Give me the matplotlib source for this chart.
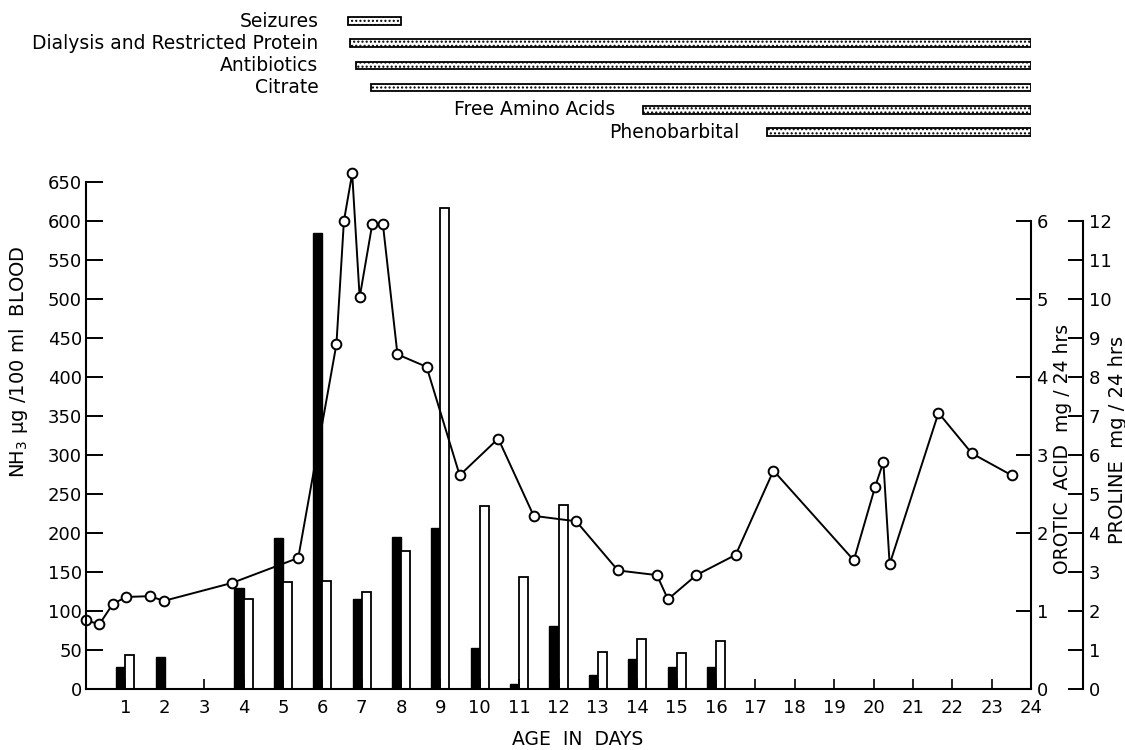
import matplotlib
matplotlib.use('Agg')
import matplotlib.pyplot as plt

# blood ammonia, NH3 ug/100 ml
nh3_days = [0, 0.34, 0.68, 1.02, 1.62, 1.98, 3.71, 5.39, 6.36, 6.55, 6.76, 6.95,
            7.27, 7.54, 7.91, 8.65, 9.49, 10.47, 11.37, 12.45, 13.51, 14.50, 14.78,
            15.50, 16.50, 17.46, 19.50, 20.04, 20.25, 20.41, 21.65, 22.50, 23.51]
nh3 = [88, 83, 109, 118, 119, 113, 136, 168, 442, 600, 661, 502,
       596, 596, 429, 413, 274, 321, 222, 215, 152, 146, 115,
       146, 172, 280, 165, 259, 291, 160, 354, 302, 274]

# urinary excretion, mg/24 hrs
orotic_days = [1, 2, 4, 5, 6, 7, 8, 9, 10, 11, 12, 13, 14, 15, 16]
orotic = [0.28, 0.41, 1.30, 1.93, 5.85, 1.15, 1.95, 2.07, 0.52, 0.06, 0.81, 0.18, 0.38, 0.28, 0.28]
proline_days = [1, 4, 5, 6, 7, 8, 9, 10, 11, 12, 13, 14, 15, 16]
proline = [0.87, 2.30, 2.74, 2.78, 2.50, 3.54, 12.34, 4.70, 2.88, 4.72, 0.96, 1.28, 0.92, 1.22]

# treatment periods (days)
treatments = ['Seizures', 'Dialysis and Restricted Protein', 'Antibiotics',
              'Citrate', 'Free Amino Acids', 'Phenobarbital']
treat_start = [6.65, 6.70, 6.86, 7.24, 14.15, 17.3]
treat_end = [8.0, 24, 24, 24, 24, 24]

day_ticks = list(range(1, 25))


def draw_chart():
    fig = plt.figure(figsize=(11.25, 7.5), dpi=100)
    W, H = 1125, 750
    ax = fig.add_axes([86 / W, 61 / H, 945 / W, 522.6 / H])
    ax_or = ax.twinx()
    ax_pro = ax.twinx()
    ax_or.set_zorder(1)
    ax_pro.set_zorder(2)
    ax.set_zorder(3)
    ax.patch.set_visible(False)

    ax.set_xlim(0, 24)
    ax.set_ylim(0, 670)
    ax_or.set_ylim(0, 6.7)
    ax_pro.set_ylim(0, 13.4)

    w = 0.23
    ax_or.bar([d - w / 2 for d in orotic_days], orotic, width=w,
              color='black', edgecolor='black', linewidth=1)
    ax_pro.bar([d + w / 2 for d in proline_days], proline, width=w,
               facecolor='white', edgecolor='black', linewidth=1.3)

    ax.plot(nh3_days, nh3, color='black', lw=1.4, marker='o', ms=7,
            mfc='white', mec='black', mew=1.4, clip_on=False)

    # spines
    for s in ['top', 'right']:
        ax.spines[s].set_visible(False)
    ax.spines['left'].set_bounds(0, 650)
    for a in [ax_or, ax_pro]:
        for s in ['top', 'left', 'bottom']:
            a.spines[s].set_visible(False)
    ax_or.spines['right'].set_bounds(0, 6)
    ax_pro.spines['right'].set_bounds(0, 12)
    ax_pro.spines['right'].set_position(('axes', 1.055))
    for a in [ax, ax_or, ax_pro]:
        for sp in a.spines.values():
            sp.set_linewidth(1.5)

    # ticks
    ax.set_yticks(range(0, 651, 50))
    ax.set_xticks(day_ticks)
    ax.tick_params(axis='y', direction='in', length=12, width=1.4, pad=3, labelsize=13)
    ax.tick_params(axis='x', direction='in', length=7, width=1.2, pad=7, labelsize=13)
    ax_or.set_yticks(range(0, 7))
    ax_or.tick_params(axis='y', direction='in', length=11, width=1.4, pad=4, labelsize=13)
    ax_pro.set_yticks(range(0, 13))
    ax_pro.tick_params(axis='y', direction='in', length=11, width=1.4, pad=4, labelsize=13)

    # labels
    ax.set_xlabel('AGE  IN  DAYS', fontsize=13.5)
    ax.xaxis.set_label_coords(0.52, -0.078)
    ax.set_ylabel('NH$_3$ µg /100 ml  BLOOD', fontsize=14)
    ax.yaxis.set_label_coords(-0.059, 0.626)
    ax_or.set_ylabel('OROTIC  ACID  mg / 24 hrs', fontsize=13.5)
    ax_or.yaxis.set_label_coords(1.0233, 0.459)
    ax_pro.set_ylabel('PROLINE  mg / 24 hrs', fontsize=14)
    ax_pro.yaxis.set_label_coords(1.0815, 0.476)

    # treatment bars on top
    ax_t = fig.add_axes([86 / W, 600 / H, 945 / W, 150 / H])
    ax_t.set_xlim(0, 24)
    ax_t.set_ylim(5.81, -0.946)
    ax_t.axis('off')
    rows = list(range(len(treatments)))
    widths = [e - s for s, e in zip(treat_start, treat_end)]
    ax_t.barh(rows, widths, left=treat_start, height=0.34, facecolor='white',
              edgecolor='black', hatch='....', linewidth=1.3)
    for r, name, start in zip(rows, treatments, treat_start):
        lx = 5.9 if start < 8 else start - 0.7
        ax_t.text(lx, r, name, ha='right', va='center', fontsize=13.5)

    fig.savefig('out.png', dpi=100)


if __name__ == "__main__":
    draw_chart()
